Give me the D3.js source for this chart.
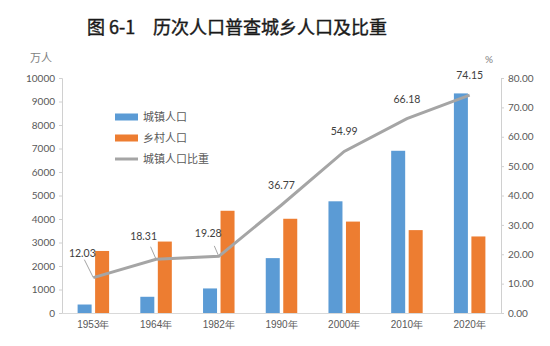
<!DOCTYPE html>
<html>
<head>
<meta charset="utf-8">
<script src="https://cdn.jsdelivr.net/npm/d3@7"></script>
<style>
  body { margin: 0; background: #fff; }
  svg { display: block; font-family: Lato, "Noto Sans CJK SC", sans-serif; }
</style>
</head>
<body>
<script>
// Census years and series (万人, %)
const years = ["1953年", "1964年", "1982年", "1990年", "2000年", "2010年", "2020年"];
const urban = [361, 690, 1045, 2335, 4753, 6903, 9344];
const rural = [2640, 3040, 4350, 4010, 3890, 3527, 3257];
const urbanShare = [12.03, 18.31, 19.28, 36.77, 54.99, 66.18, 74.15];
const leftTicks = [0, 1000, 2000, 3000, 4000, 5000, 6000, 7000, 8000, 9000, 10000];
const rightTicks = [0, 10, 20, 30, 40, 50, 60, 70, 80];

const width = 550;
const height = 346;
const marginLeft = 62;
const marginRight = 49;
const marginTop = 78;
const marginBottom = 33;

const blue = "#5b9bd5";
const orange = "#ed7d31";
const gray = "#a5a5a5";
const textColor = "#595959";

// label offsets from each line point (dx, dy); leader starts at (lx, ly) from the label
const labelPlacement = [
  { dx: -11, dy: -21, leader: [2, 3] },
  { dx: -12.5, dy: -19.5, leader: [7, 7] },
  { dx: -10.5, dy: -19.5, leader: [6, 9] },
  { dx: 0, dy: -16 },
  { dx: 0, dy: -16 },
  { dx: 0, dy: -16 },
  { dx: 0, dy: -16 },
];

const svg = d3.select("body").append("svg")
  .attr("width", width)
  .attr("height", height)
  .attr("viewBox", [0, 0, width, height]);

// title
const title = svg.append("text")
  .attr("y", 34)
  .attr("fill", "#1a1a1a")
  .attr("font-family", "'Noto Sans CJK SC', sans-serif")
  .attr("font-weight", 400)
  .attr("stroke", "#1a1a1a")
  .attr("stroke-width", 0.4)
  .attr("font-size", 18);
title.append("tspan").attr("x", 87).text("图 6-1");
title.append("tspan").attr("x", 153).text("历次人口普查城乡人口及比重");

const x = d3.scaleBand(years, [marginLeft, width - marginRight]);
const xSeries = d3.scaleBand(["urban", "rural"], [-15.75, 15.75]).paddingInner(0.2);
const y = d3.scaleLinear([0, 10000], [height - marginBottom, marginTop]);
const y2 = d3.scaleLinear([0, 80], [height - marginBottom, marginTop]);

// left axis
svg.append("g")
  .attr("transform", `translate(${marginLeft},0)`)
  .call(d3.axisLeft(y).tickValues(leftTicks).tickFormat(d3.format("d")).tickSize(3).tickPadding(4))
  .call((g) => g.selectAll(".domain, line").attr("stroke", "#d0d0d0"))
  .call((g) => g.selectAll("text").attr("fill", textColor).attr("font-size", 10).attr("font-family", "Lato, sans-serif"));

// right axis
svg.append("g")
  .attr("transform", `translate(${width - marginRight},0)`)
  .call(d3.axisRight(y2).tickValues(rightTicks).tickFormat(d3.format(".2f")).tickSize(3).tickPadding(4))
  .call((g) => g.selectAll(".domain, line").attr("stroke", "#d0d0d0"))
  .call((g) => g.selectAll("text").attr("fill", textColor).attr("font-size", 10).attr("font-family", "Lato, sans-serif"));

// bottom axis
svg.append("g")
  .attr("transform", `translate(0,${height - marginBottom})`)
  .call(d3.axisBottom(x).tickSize(0).tickPadding(8))
  .call((g) => g.select(".domain").attr("stroke", "#d9d9d9"))
  .call((g) => g.selectAll("text").attr("fill", textColor).attr("font-size", 10));

// unit labels
svg.append("text").attr("x", 30).attr("y", 62).attr("fill", "#7f7f7f")
  .attr("font-size", 11).attr("font-family", "'Noto Sans CJK SC'").text("万人");
svg.append("text").attr("x", 485).attr("y", 63).attr("fill", "#7f7f7f")
  .attr("font-size", 10).text("%");

// bars
const bars = svg.append("g");
bars.selectAll(".urban")
  .data(urban)
  .join("rect")
  .attr("x", (d, i) => x(years[i]) + x.bandwidth() / 2 + xSeries("urban"))
  .attr("width", xSeries.bandwidth())
  .attr("y", (d) => y(d))
  .attr("height", (d) => y(0) - y(d))
  .attr("fill", blue);
bars.selectAll(".rural")
  .data(rural)
  .join("rect")
  .attr("x", (d, i) => x(years[i]) + x.bandwidth() / 2 + xSeries("rural"))
  .attr("width", xSeries.bandwidth())
  .attr("y", (d) => y(d))
  .attr("height", (d) => y(0) - y(d))
  .attr("fill", orange);

// share line
const px = (i) => x(years[i]) + x.bandwidth() / 2;
const line = d3.line()
  .x((d, i) => px(i))
  .y((d) => y2(d));
svg.append("path")
  .attr("fill", "none")
  .attr("stroke", gray)
  .attr("stroke-width", 3)
  .attr("d", line(urbanShare));

// data labels with leader lines
const labels = svg.append("g");
urbanShare.forEach((v, i) => {
  const p = labelPlacement[i];
  const cx = px(i);
  const cy = y2(v);
  if (p.leader) {
    labels.append("line")
      .attr("x1", cx + p.dx + p.leader[0])
      .attr("y1", cy + p.dy + p.leader[1])
      .attr("x2", cx)
      .attr("y2", cy)
      .attr("stroke", gray)
      .attr("stroke-width", 1);
  }
  labels.append("text")
    .attr("x", cx + p.dx)
    .attr("y", cy + p.dy)
    .attr("text-anchor", "middle")
    .attr("fill", "#404040")
    .attr("font-size", 10.5)
    .text(d3.format(".2f")(v));
});

// legend
const legendItems = [
  { name: "城镇人口", color: blue, type: "rect" },
  { name: "乡村人口", color: orange, type: "rect" },
  { name: "城镇人口比重", color: gray, type: "line" },
];
const legend = svg.append("g").attr("transform", "translate(115,117)");
legendItems.forEach((d, i) => {
  const g = legend.append("g").attr("transform", `translate(0,${i * 21})`);
  if (d.type === "rect") {
    g.append("rect").attr("x", 0).attr("y", -3.5).attr("width", 23).attr("height", 7).attr("fill", d.color);
  } else {
    g.append("line").attr("x1", 0).attr("x2", 23).attr("y1", 0).attr("y2", 0)
      .attr("stroke", d.color).attr("stroke-width", 3);
  }
  g.append("text")
    .attr("x", 28)
    .attr("dy", "0.35em")
    .attr("fill", textColor)
    .attr("font-size", 11)
    .attr("font-family", "'Noto Sans CJK SC'")
    .text(d.name);
});
</script>
</body>
</html>
